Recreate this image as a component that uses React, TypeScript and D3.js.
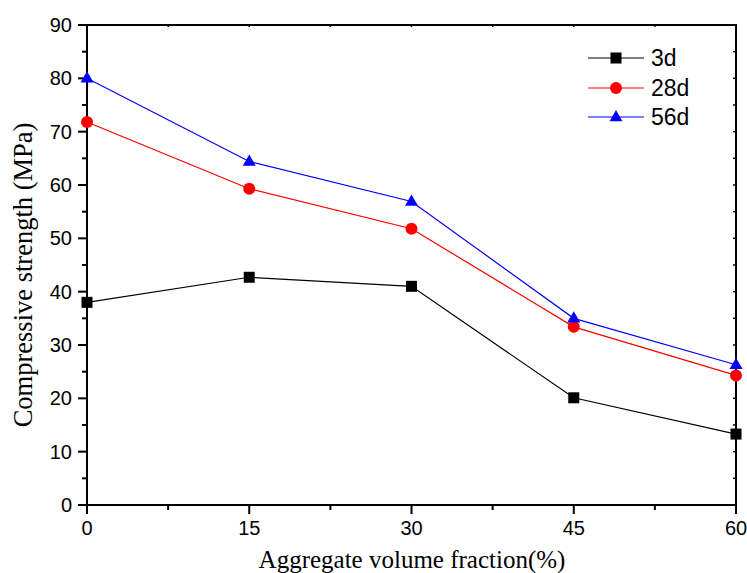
import React from "react";
import * as d3 from "d3";

const xValues = [0, 15, 30, 45, 60];
const series3d = [38.0, 42.7, 41.0, 20.1, 13.3];
const series28d = [71.8, 59.3, 51.8, 33.4, 24.3];
const series56d = [80.0, 64.4, 56.9, 35.0, 26.3];
const xTicks = [0, 15, 30, 45, 60];
const yTicks = [0, 10, 20, 30, 40, 50, 60, 70, 80, 90];
const legendLabels = ["3d", "28d", "56d"];

const W = 747;
const H = 573;
const L = 87, R = 736, T = 25, B = 505;

export default function App() {
  const x = d3.scaleLinear().domain([0, 60]).range([L, R]);
  const y = d3.scaleLinear().domain([0, 90]).range([B, T]);
  const line = d3.line<number>().x((_, i) => x(xValues[i])).y((d) => y(d));

  const xMinor = d3.range(7.5, 60, 15);
  const yMinor = d3.range(5, 90, 10);

  const series = [
    { name: legendLabels[0], data: series3d, color: "#000000", marker: "square" },
    { name: legendLabels[1], data: series28d, color: "#ff0000", marker: "circle" },
    { name: legendLabels[2], data: series56d, color: "#0000ff", marker: "triangle" },
  ];

  const marker = (type: string, cx: number, cy: number, color: string, key: any) => {
    if (type === "square") return <rect key={key} x={cx - 5.5} y={cy - 5.5} width={11} height={11} fill={color} />;
    if (type === "circle") return <circle key={key} cx={cx} cy={cy} r={6} fill={color} />;
    const s = 13;
    const h = s * 0.866;
    return (
      <path
        key={key}
        d={`M${cx},${cy - h * 0.62} L${cx + s / 2},${cy + h * 0.38} L${cx - s / 2},${cy + h * 0.38} Z`}
        fill={color}
      />
    );
  };

  const legendY = [58, 88, 117];

  return (
    <svg width={W} height={H} style={{ position: "absolute", left: 0, top: 0, background: "#fff" }}>
      <rect x={0} y={0} width={W} height={H} fill="#fff" />
      {series.map((s) => (
        <path key={s.name} d={line(s.data) || ""} fill="none" stroke={s.color} strokeWidth={1.2} />
      ))}
      <rect x={L} y={T} width={R - L} height={B - T} fill="none" stroke="#000" strokeWidth={2} />
      {xTicks.map((t) => (
        <g key={"xt" + t}>
          <line x1={x(t)} x2={x(t)} y1={B} y2={B + 9} stroke="#000" strokeWidth={2} />
          <line x1={x(t)} x2={x(t)} y1={T} y2={T + 2} stroke="#000" strokeWidth={1.5} />
          <text x={x(t)} y={535} textAnchor="middle" fontFamily="Liberation Sans, Arial, sans-serif" fontSize={20} fill="#000">
            {t}
          </text>
        </g>
      ))}
      {xMinor.map((t) => (
        <g key={"xm" + t}>
          <line x1={x(t)} x2={x(t)} y1={B} y2={B + 5} stroke="#000" strokeWidth={2} />
          <line x1={x(t)} x2={x(t)} y1={T} y2={T + 2} stroke="#000" strokeWidth={1.5} />
        </g>
      ))}
      {yTicks.map((t) => (
        <g key={"yt" + t}>
          <line x1={L - 9} x2={L} y1={y(t)} y2={y(t)} stroke="#000" strokeWidth={2} />
          <line x1={R - 3} x2={R} y1={y(t)} y2={y(t)} stroke="#000" strokeWidth={1.5} />
          <text x={72} y={y(t) + 7} textAnchor="end" fontFamily="Liberation Sans, Arial, sans-serif" fontSize={20} fill="#000">
            {t}
          </text>
        </g>
      ))}
      {yMinor.map((t) => (
        <g key={"ym" + t}>
          <line x1={L - 5} x2={L} y1={y(t)} y2={y(t)} stroke="#000" strokeWidth={2} />
          <line x1={R - 3} x2={R} y1={y(t)} y2={y(t)} stroke="#000" strokeWidth={1.5} />
        </g>
      ))}
      {series.map((s) => s.data.map((d, i) => marker(s.marker, x(xValues[i]), y(d), s.color, s.name + i)))}
      {series.map((s, i) => (
        <g key={"lg" + s.name}>
          <line x1={588} x2={644} y1={legendY[i]} y2={legendY[i]} stroke={s.color} strokeWidth={1.2} />
          {marker(s.marker, 616, legendY[i], s.color, "lm" + i)}
          <text x={651} y={legendY[i] + 8} fontFamily="Liberation Sans, Arial, sans-serif" fontSize={23} fill="#000">
            {s.name}
          </text>
        </g>
      ))}
      <text x={412} y={568} textAnchor="middle" fontFamily="Liberation Serif, Times New Roman, serif" fontSize={25} fill="#000">
        Aggregate volume fraction(%)
      </text>
      <text
        transform={`translate(32,275) rotate(-90)`}
        textAnchor="middle"
        fontFamily="Liberation Serif, Times New Roman, serif"
        fontSize={26.5}
        fill="#000"
      >
        Compressive strength (MPa)
      </text>
    </svg>
  );
}
